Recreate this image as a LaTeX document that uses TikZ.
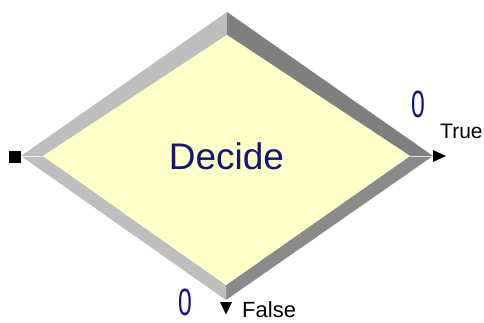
\documentclass[tikz,border=0pt]{standalone}
\usepackage{fontspec}
\setmainfont{Liberation Sans}
\definecolor{facey}{HTML}{FFFFC8}
\definecolor{bevlight}{HTML}{BEBEBE}
\definecolor{bevdark}{HTML}{7F7F7F}
\definecolor{bevdark2}{HTML}{8A8A8A}
\definecolor{navy}{HTML}{14147A}
\definecolor{cntblue}{HTML}{10108A}
\begin{document}
\begin{tikzpicture}[x=1pt,y=-1pt,
  lbl/.style={inner sep=0pt,font=\fontsize{21}{24}\selectfont},
  cnt/.style={inner sep=0pt,text=cntblue,font=\fontsize{38}{40}\selectfont},
  port/.style={fill=black,draw=none}]
\useasboundingbox (0,0) rectangle (484,322);
\fill[white] (0,0) rectangle (484,322);
% outer and inner vertices
\coordinate (OL) at (21,156);
\coordinate (OT) at (227,12);
\coordinate (OR) at (433,156);
\coordinate (OB) at (226,300);
\coordinate (IL) at (43,156);
\coordinate (IT) at (227,35);
\coordinate (IR) at (410,156);
\coordinate (IB) at (226,285);
% bevels
\fill[bevlight] (OL) -- (OT) -- (IT) -- (IL) -- cycle;
\fill[bevdark] (OT) -- (OR) -- (IR) -- (IT) -- cycle;
\fill[bevdark2] (OR) -- (OB) -- (IB) -- (IR) -- cycle;
\fill[bevlight] (OB) -- (OL) -- (IL) -- (IB) -- cycle;
\draw[white!85!gray,line width=0.8pt] (OL) -- (IL);
\draw[white!75!gray,line width=0.8pt] (IR) -- (OR);
% face
\fill[facey] (IL) -- (IT) -- (IR) -- (IB) -- cycle;
\node[inner sep=0pt,text=navy,font=\fontsize{37}{40}\selectfont] (title) at (226.5,156) {Decide};
% ports
\fill[port] (9,150.5) rectangle (21,162.5);
\coordinate (inport) at (15,156.5);
\fill[port] (433,150) -- (446,156) -- (433,162) -- cycle;
\coordinate (trueport) at (439,156);
\fill[port] (220,302) -- (232,302) -- (226,314.5) -- cycle;
\coordinate (falseport) at (226,307);
% labels
\node[lbl,anchor=base west] (truelbl) at (440,138) {True};
\node[lbl,anchor=base west,font=\fontsize{22}{24}\selectfont] (falselbl) at (242,317) {False};
\node[cnt,anchor=base] (cnttrue) at (418,117) {\scalebox{0.65}[1]{0}};
\node[cnt,anchor=base] (cntfalse) at (185,315) {\scalebox{0.65}[1]{0}};
\end{tikzpicture}
\end{document}
